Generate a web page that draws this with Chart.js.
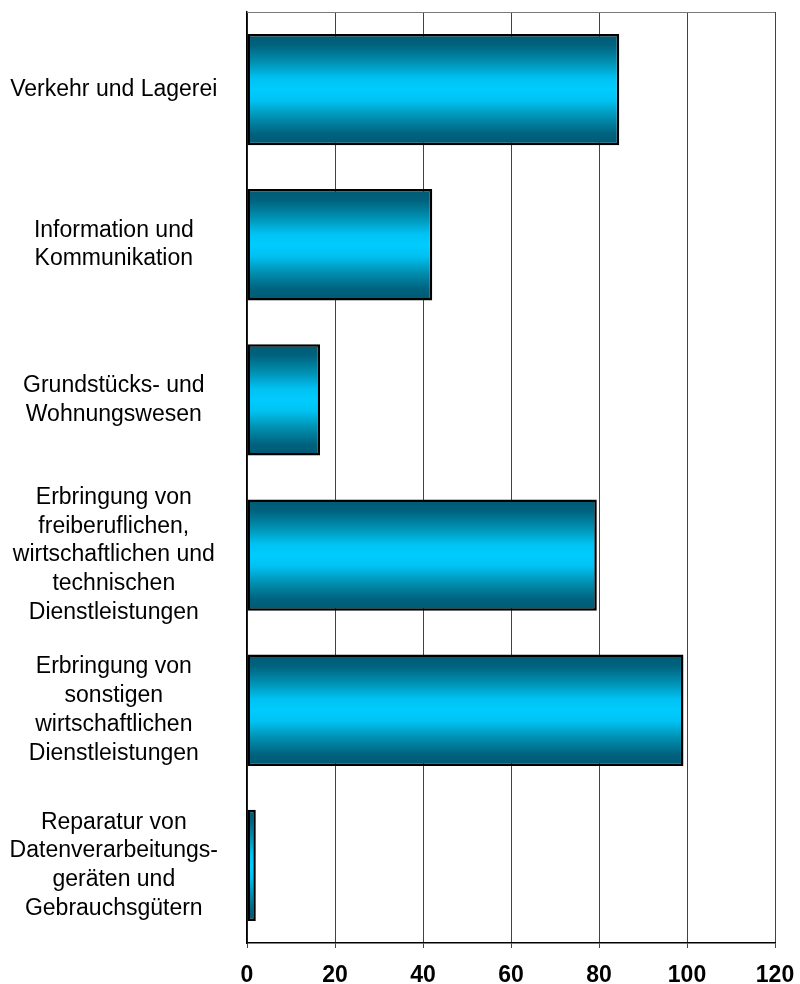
<!DOCTYPE html>
<html>
<head>
<meta charset="utf-8">
<script src="https://cdn.jsdelivr.net/npm/chart.js@4"></script>
<style>
  html, body { margin: 0; padding: 0; background: #ffffff; }
  #wrap { width: 800px; height: 984px; position: relative; }
</style>
</head>
<body>
<div id="wrap"><canvas id="c" width="800" height="984"></canvas></div>
<script>
const categories = [
  "Verkehr und Lagerei",
  ["Information und", "Kommunikation"],
  ["Grundstücks- und", "Wohnungswesen"],
  ["Erbringung von", "freiberuflichen,", "wirtschaftlichen und", "technischen", "Dienstleistungen"],
  ["Erbringung von", "sonstigen", "wirtschaftlichen", "Dienstleistungen"],
  ["Reparatur von", "Datenverarbeitungs-", "geräten und", "Gebrauchsgütern"]
];
const values = [84.6, 42.1, 16.6, 79.5, 99.2, 2.0];
const xTicks = [0, 20, 40, 60, 80, 100, 120];

const BAR_PCT = 0.718;

function barGradient(ctx) {
  const chart = ctx.chart;
  const ys = chart.scales.y;
  if (!chart.chartArea || !ys || ctx.type !== 'data') return '#00ccff';
  const c = ys.getPixelForValue(ctx.dataIndex);
  const step = Math.abs(ys.getPixelForValue(1) - ys.getPixelForValue(0));
  const h = step * BAR_PCT;
  const g = chart.ctx.createLinearGradient(0, c - h / 2, 0, c + h / 2);
  g.addColorStop(0.00, '#005a74');
  g.addColorStop(0.10, '#00627e');
  g.addColorStop(0.25, '#008fb0');
  g.addColorStop(0.40, '#00c2f2');
  g.addColorStop(0.50, '#00ccff');
  g.addColorStop(0.60, '#00c2f2');
  g.addColorStop(0.75, '#008fb0');
  g.addColorStop(0.90, '#00627e');
  g.addColorStop(1.00, '#005a74');
  return g;
}

const topFrame = {
  id: 'topFrame',
  afterDraw(chart) {
    const { ctx, chartArea } = chart;
    ctx.save();
    ctx.strokeStyle = '#7a7a7a';
    ctx.lineWidth = 1;
    ctx.beginPath();
    ctx.moveTo(chartArea.left, chartArea.top + 0.5);
    ctx.lineTo(chartArea.right, chartArea.top + 0.5);
    ctx.stroke();
    ctx.restore();
  }
};

new Chart(document.getElementById('c'), {
  type: 'bar',
  data: {
    labels: categories,
    datasets: [{
      data: values,
      backgroundColor: barGradient,
      borderColor: '#000000',
      borderWidth: 2.5,
      borderSkipped: false,
      barPercentage: BAR_PCT,
      categoryPercentage: 1.0
    }]
  },
  options: {
    indexAxis: 'y',
    responsive: false,
    animation: false,
    devicePixelRatio: 1,
    layout: { padding: { top: 12, right: 25, bottom: 0, left: 0 } },
    plugins: {
      legend: { display: false },
      tooltip: { enabled: false }
    },
    scales: {
      x: {
        type: 'linear',
        min: 0,
        max: 120,
        afterBuildTicks(scale) { scale.ticks = xTicks.map(v => ({ value: v })); },
        afterFit(scale) {
          scale.height = 41;
          scale.paddingLeft = 0;
          scale.paddingRight = 0;
        },
        grid: { color: '#444444', lineWidth: 1, tickLength: 5, drawTicks: true },
        border: { display: true, color: '#000000', width: 1.5 },
        ticks: {
          padding: 14,
          color: '#000000',
          font: { family: '"Liberation Sans", Arial, sans-serif', size: 23, weight: 'bold' }
        }
      },
      y: {
        afterFit(scale) {
          scale.width = 247;
          scale.paddingTop = 0;
          scale.paddingBottom = 0;
        },
        grid: { display: false, drawTicks: false },
        border: { display: true, color: '#000000', width: 1.5 },
        ticks: {
          crossAlign: 'center',
          padding: 29,
          color: '#000000',
          font: { family: '"Liberation Sans", Arial, sans-serif', size: 23, lineHeight: 1.25 }
        }
      }
    }
  },
  plugins: [topFrame]
});
</script>
</body>
</html>
